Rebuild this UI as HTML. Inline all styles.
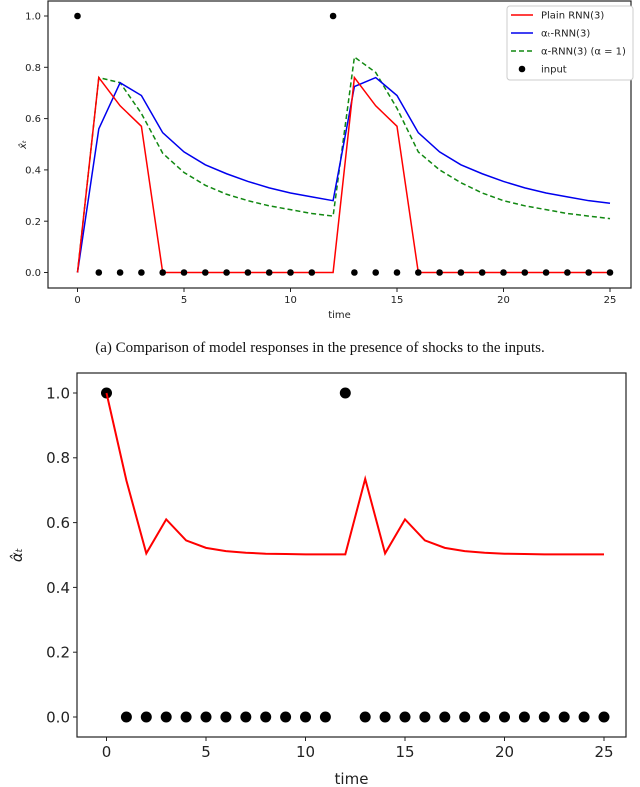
<!DOCTYPE html>
<html><head><meta charset="utf-8"><style>
body{margin:0;background:#fff;width:640px;height:787px;overflow:hidden}
svg{display:block;font-family:"DejaVu Sans","Liberation Sans",sans-serif}
</style></head><body>
<svg id="fig" width="640" height="787">
<text x="320" y="352" text-anchor="middle" font-family="Liberation Serif, serif" font-size="15" fill="#111">(a) Comparison of model responses in the presence of shocks to the inputs.</text>
</svg>
<script>
const times=[0,1,2,3,4,5,6,7,8,9,10,11,12,13,14,15,16,17,18,19,20,21,22,23,24,25];
const plainRnn=[0,0.76,0.65,0.57,0,0,0,0,0,0,0,0,0,0.76,0.65,0.57,0,0,0,0,0,0,0,0,0,0];
const alphaTRnn=[0,0.56,0.74,0.69,0.545,0.47,0.42,0.385,0.355,0.33,0.31,0.295,0.28,0.725,0.76,0.69,0.545,0.47,0.42,0.385,0.355,0.33,0.31,0.295,0.28,0.27];
const alphaRnn=[0,0.76,0.74,0.62,0.465,0.39,0.34,0.305,0.28,0.26,0.245,0.23,0.22,0.84,0.78,0.64,0.47,0.40,0.35,0.31,0.28,0.26,0.245,0.23,0.22,0.21];
const inputs=[1,0,0,0,0,0,0,0,0,0,0,0,1,0,0,0,0,0,0,0,0,0,0,0,0,0];
const alphaHat=[1.0,0.73,0.505,0.61,0.545,0.522,0.512,0.507,0.504,0.503,0.502,0.502,0.502,0.735,0.505,0.61,0.545,0.522,0.512,0.507,0.504,0.503,0.502,0.502,0.502,0.502];
const xTicks=[0,5,10,15,20,25];
const yTicks=[0,0.2,0.4,0.6,0.8,1.0];
const svg=document.getElementById('fig');
const NS='http://www.w3.org/2000/svg';
function mk(tag,attrs,parent){const e=document.createElementNS(NS,tag);for(const k in attrs)e.setAttribute(k,attrs[k]);(parent||svg).appendChild(e);return e;}
function chart(o){
  const g=mk('g',{});
  
  
  const sx=v=>o.x0+(o.x1-o.x0)*v/25, sy=v=>o.y0+(o.y1-o.y0)*v;
  o.series.forEach(s=>{
    const p=mk('polyline',{points:s.vals.map((v,i)=>sx(times[i])+','+sy(v)).join(' '),fill:'none',stroke:s.color,'stroke-width':o.lw,'stroke-dasharray':s.dash||'none'},g);
    
    
  });
  inputs.forEach((v,i)=>{
    const c=mk('circle',{cx:sx(times[i]),cy:sy(v),r:o.r,fill:'#000'},g);
    
    
  });
  if(o.redAfter){const p=g.querySelector('polyline');g.appendChild(p);}
  const fr=mk('rect',{x:o.L,y:o.T,width:o.R-o.L,height:o.B-o.T,fill:'none',stroke:'#222','stroke-width':1.2},g);
  
  
  xTicks.forEach(t=>{
    mk('line',{x1:sx(t),x2:sx(t),y1:o.B,y2:o.B+4,stroke:'#222'},g);
    const tx=mk('text',{x:sx(t),y:o.B+o.fs+5,'text-anchor':'middle','font-size':o.fs,fill:'#222'},g);
    tx.textContent=t;
    
    
  });
  yTicks.forEach(t=>{
    mk('line',{x1:o.L-4,x2:o.L,y1:sy(t),y2:sy(t),stroke:'#222'},g);
    const tx=mk('text',{x:o.L-7,y:sy(t)+o.fs*0.36,'text-anchor':'end','font-size':o.fs,fill:'#222'},g);
    tx.textContent=t.toFixed(1);
    
    
  });
  const xl=mk('text',{x:(o.L+o.R)/2,y:o.xly,'text-anchor':'middle','font-size':o.xfs,fill:'#222'},g);
  xl.textContent='time';
  
  
  const yl=mk('text',{x:o.ylx,y:(o.T+o.B)/2,'text-anchor':'middle','font-size':o.xfs,fill:'#222',transform:`rotate(-90 ${o.ylx} ${(o.T+o.B)/2})`,'font-style':'italic'},g);
  yl.textContent=o.ylab;
  
  
}
chart({name:'top-chart',L:48,R:631,T:1,B:288,x0:77.5,x1:610,y0:272.5,y1:16,lw:1.5,r:3.3,fs:10,xfs:10,xly:318,ylx:26,ylab:'x̂ₜ',
  series:[{name:'alpha-rnn-line',vals:alphaRnn,color:'#118811',dash:'5,3'},{name:'alphat-rnn-line',vals:alphaTRnn,color:'#0000ee'},{name:'plain-rnn-line',vals:plainRnn,color:'#ff0000'}]});
chart({name:'bottom-chart',L:77,R:626,T:373,B:737,x0:106.5,x1:604,y0:717,y1:393,lw:2,r:5.5,fs:15,xfs:15,xly:784,ylx:22,ylab:'α̂ₜ',redAfter:true,
  series:[{name:'alpha-hat-line',vals:alphaHat,color:'#ff0000'}]});
// legend
const lg=mk('g',{});


const box=mk('rect',{x:507,y:6,width:126,height:74,rx:3,fill:'#fff',stroke:'#ccc'},lg);


const items=[['Plain RNN(3)','#ff0000','none','line'],['αₜ-RNN(3)','#0000ee','none','line'],['α-RNN(3) (α = 1)','#118811','5,3','line'],['input','#000','none','dot']];
items.forEach((it,i)=>{
  const y=15+i*18;
  if(it[3]==='line'){const l=mk('line',{x1:511,x2:533,y1:y,y2:y,stroke:it[1],'stroke-width':1.5,'stroke-dasharray':it[2]},lg);}
  else{const c=mk('circle',{cx:522,cy:y,r:3.3,fill:'#000'},lg);}
  const t=mk('text',{x:541,y:y+3.5,'font-size':10,fill:'#222'},lg);
  t.textContent=it[0];
  
  
});
</script>
</body></html>
